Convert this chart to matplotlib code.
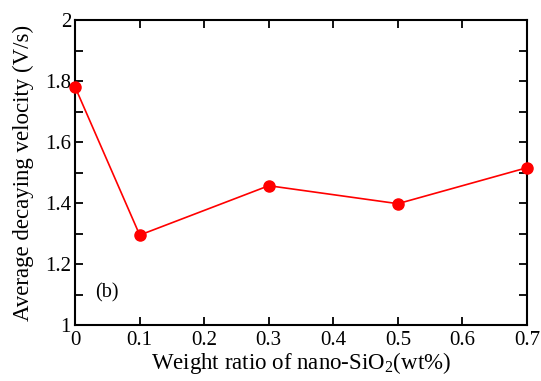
import matplotlib
matplotlib.use('Agg')
import matplotlib.pyplot as plt
from matplotlib.ticker import MultipleLocator

# data
weight_ratio = [0.0, 0.1, 0.3, 0.5, 0.7]
decay_velocity = [1.78, 1.295, 1.457, 1.398, 1.516]

x_ticks = [0, 0.1, 0.2, 0.3, 0.4, 0.5, 0.6, 0.7]
x_tick_labels = ['0', '0.1', '0.2', '0.3', '0.4', '0.5', '0.6', '0.7']
y_ticks = [1, 1.2, 1.4, 1.6, 1.8, 2]
y_tick_labels = ['1', '1.2', '1.4', '1.6', '1.8', '2']

plt.rcParams['font.family'] = ['Liberation Serif', 'DejaVu Serif']
plt.rcParams['mathtext.fontset'] = 'custom'
plt.rcParams['mathtext.rm'] = 'Liberation Serif'
plt.rcParams['mathtext.it'] = 'Liberation Serif:italic'

fig, ax = plt.subplots(figsize=(5.41, 3.81), dpi=100)
fig.subplots_adjust(left=0.139, right=0.974, top=0.947, bottom=0.147)

ax.plot(weight_ratio, decay_velocity, color='red', linewidth=1.2,
        marker='o', markersize=8, clip_on=False, zorder=5)

ax.set_xlim(0, 0.7)
ax.set_ylim(1, 2)
ax.set_xticks(x_ticks)
ax.set_xticklabels(x_tick_labels)
ax.set_yticks(y_ticks)
ax.set_yticklabels(y_tick_labels)
ax.yaxis.set_minor_locator(MultipleLocator(0.1))

ax.tick_params(axis='both', which='both', direction='in', top=True, right=True,
               labelsize=15, width=1.3)
ax.tick_params(axis='x', pad=4)
ax.tick_params(axis='y', pad=3)
ax.tick_params(which='major', length=6)
ax.tick_params(which='minor', length=6)
for s in ax.spines.values():
    s.set_linewidth(1.5)

ax.set_xlabel(r'Weight ratio of nano-SiO$_2$(wt%)', fontsize=16.5, labelpad=0)
ax.set_ylabel('Average decaying velocity (V/s)', fontsize=16.5, labelpad=8)

ax.text(0.045, 0.09, '(b)', transform=ax.transAxes, fontsize=14.5)

fig.savefig('out.png', dpi=100)
